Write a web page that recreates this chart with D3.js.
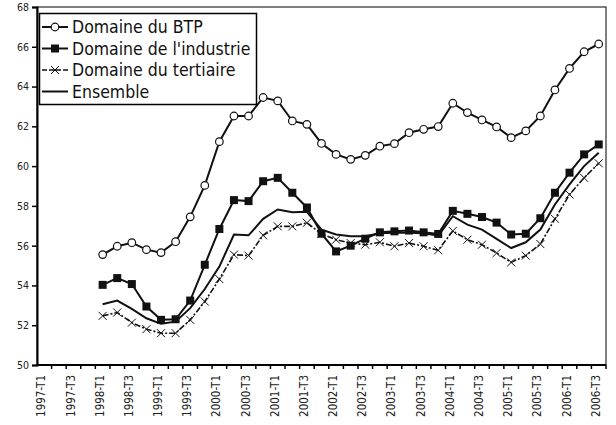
<!DOCTYPE html>
<html>
<head>
<meta charset="utf-8">
<script src="https://cdn.jsdelivr.net/npm/d3@7"></script>
<style>
    body { margin: 0; background: #fff; }
    svg { display: block; }
</style>
</head>
<body>
<div id="chart"></div>
<script>
const trimestres = [
    '1997-T1', '1997-T2', '1997-T3', '1997-T4',
    '1998-T1', '1998-T2', '1998-T3', '1998-T4',
    '1999-T1', '1999-T2', '1999-T3', '1999-T4',
    '2000-T1', '2000-T2', '2000-T3', '2000-T4',
    '2001-T1', '2001-T2', '2001-T3', '2001-T4',
    '2002-T1', '2002-T2', '2002-T3', '2002-T4',
    '2003-T1', '2003-T2', '2003-T3', '2003-T4',
    '2004-T1', '2004-T2', '2004-T3', '2004-T4',
    '2005-T1', '2005-T2', '2005-T3', '2005-T4',
    '2006-T1', '2006-T2', '2006-T3'
];

// les séries commencent en 1998-T1
const debut = '1998-T1';

const btp = [
    55.55, 55.97, 56.15, 55.80,
    55.65, 56.20, 57.45, 59.03,
    61.23, 62.52, 62.52, 63.45,
    63.28, 62.27, 62.10, 61.14,
    60.59, 60.34, 60.54, 61.00,
    61.13, 61.68, 61.85, 61.99,
    63.16, 62.69, 62.32, 61.97,
    61.43, 61.77, 62.52, 63.83,
    64.91, 65.75, 66.14
];

const industrie = [
    54.03, 54.37, 54.07, 52.94,
    52.27, 52.30, 53.24, 55.04,
    56.84, 58.29, 58.24, 59.24,
    59.41, 58.66, 57.92, 56.60,
    55.71, 56.00, 56.35, 56.67,
    56.72, 56.76, 56.67, 56.59,
    57.75, 57.60, 57.44, 57.16,
    56.56, 56.60, 57.38, 58.66,
    59.67, 60.59, 61.09
];

const tertiaire = [
    52.47, 52.64, 52.13, 51.80,
    51.60, 51.60, 52.27, 53.19,
    54.32, 55.55, 55.50, 56.52,
    56.97, 56.97, 57.15, 56.59,
    56.30, 56.13, 56.05, 56.17,
    55.97, 56.13, 55.97, 55.77,
    56.74, 56.30, 56.05, 55.63,
    55.16, 55.50, 56.08, 57.35,
    58.57, 59.41, 60.14
];

const ensemble = [
    53.05, 53.24, 52.82, 52.35,
    52.07, 52.18, 52.86, 53.82,
    54.95, 56.56, 56.52, 57.35,
    57.82, 57.68, 57.70, 56.80,
    56.56, 56.47, 56.47, 56.62,
    56.65, 56.65, 56.62, 56.50,
    57.48, 57.06, 56.81, 56.34,
    55.88, 56.17, 56.81, 58.07,
    59.08, 60.00, 60.67
];

const yTicks = [50, 52, 54, 56, 58, 60, 62, 64, 66, 68];
const xTickLabels = trimestres.filter((d, i) => i % 2 == 0);

const series = [
    {nom: 'Domaine du BTP', valeurs: btp, marque: 'rond', dash: null},
    {nom: "Domaine de l'industrie", valeurs: industrie, marque: 'carre', dash: null},
    {nom: 'Domaine du tertiaire', valeurs: tertiaire, marque: 'croix', dash: '6,2,2,2'},
    {nom: 'Ensemble', valeurs: ensemble, marque: null, dash: null}
];

const police = 'DejaVu Sans Condensed, DejaVu Sans, sans-serif';

const graphique = (seletor) => {
    let W = 616, H = 425;
    let margin = {top: 7, right: 10, bottom: 60, left: 37};

    let svg = d3.select(seletor)
                .append('svg')
                    .attr('width', W)
                    .attr('height', H);

    let xScale = d3.scaleBand()
                   .domain(trimestres)
                   .range([margin.left, W - margin.right]);

    let yScale = d3.scaleLinear()
                   .domain([50, 68])
                   .range([H - margin.bottom, margin.top]);

    let i0 = trimestres.indexOf(debut);
    let cx = (i) => xScale(trimestres[i0 + i]) + xScale.bandwidth() / 2;

    // cadre
    svg.append('rect')
        .attr('x', margin.left)
        .attr('y', margin.top)
        .attr('width', W - margin.left - margin.right)
        .attr('height', H - margin.top - margin.bottom)
        .attr('fill', 'none')
        .attr('stroke', '#000')
        .attr('stroke-width', 1);

    // Eixo Y
    let yAxis = d3.axisLeft(yScale)
                  .tickValues(yTicks)
                  .tickSize(5)
                  .tickFormat(d3.format('d'));

    let gy = svg.append('g')
        .attr('transform', `translate(${margin.left},0)`)
        .call(yAxis);
    gy.select('.domain').attr('stroke-width', 2);
    gy.selectAll('.tick line').attr('stroke-width', 1.5);
    gy.selectAll('text')
        .attr('font-family', police)
        .attr('font-size', '10.5px')
        .attr('fill', '#222')
        .attr('x', -8);

    // Eixo X : graduations entre les trimestres
    let gx = svg.append('g')
        .attr('transform', `translate(0,${H - margin.bottom})`);

    gx.append('line')
        .attr('x1', margin.left)
        .attr('x2', W - margin.right)
        .attr('stroke', '#000')
        .attr('stroke-width', 2);

    gx.selectAll('.tk')
        .data(trimestres)
        .enter()
        .append('line')
            .attr('x1', d => xScale(d) + xScale.bandwidth())
            .attr('x2', d => xScale(d) + xScale.bandwidth())
            .attr('y1', 0)
            .attr('y2', 4)
            .attr('stroke', '#000')
            .attr('stroke-width', 1.5);

    gx.selectAll('.lbl')
        .data(xTickLabels)
        .enter()
        .append('text')
            .attr('transform', d => `translate(${xScale(d) + xScale.bandwidth() / 2 - 3},10) rotate(-90)`)
            .attr('dy', '0.35em')
            .style('text-anchor', 'end')
            .attr('font-family', police)
            .attr('font-size', '11.5px')
            .attr('fill', '#222')
            .text(d => d);

    // courbes
    series.forEach(s => {
        let line = d3.line()
                     .x((d, i) => cx(i))
                     .y(d => yScale(d));

        svg.append('path')
            .datum(s.valeurs)
            .attr('d', line)
            .attr('fill', 'none')
            .attr('stroke', '#111')
            .attr('stroke-width', s.dash ? 1.6 : 2)
            .attr('stroke-dasharray', s.dash);

        drawMarks(svg, s.valeurs.map((v, i) => [cx(i), yScale(v)]), s.marque);
    });

    // légende
    let lg = svg.append('g');
    lg.append('rect')
        .attr('x', 39.5)
        .attr('y', 13.5)
        .attr('width', 217)
        .attr('height', 91)
        .attr('fill', '#fff')
        .attr('stroke', '#000')
        .attr('stroke-width', 1.5);

    series.forEach((s, k) => {
        let y = 27 + k * 21.5;
        lg.append('line')
            .attr('x1', 42)
            .attr('x2', 68)
            .attr('y1', y)
            .attr('y2', y)
            .attr('stroke', '#111')
            .attr('stroke-width', s.dash ? 1.6 : 2)
            .attr('stroke-dasharray', s.dash ? '5,2' : null);
        drawMarks(lg, [[55, y]], s.marque);
        lg.append('text')
            .attr('x', 72)
            .attr('y', y)
            .attr('dy', '0.36em')
            .attr('font-family', police)
            .attr('font-size', '17.5px')
            .attr('fill', '#111')
            .text(s.nom);
    });
};

const drawMarks = (g, pts, marque) => {
    if (marque == 'rond') {
        g.selectAll(null)
            .data(pts)
            .enter()
            .append('circle')
                .attr('cx', d => d[0])
                .attr('cy', d => d[1])
                .attr('r', 3.8)
                .attr('fill', '#fff')
                .attr('stroke', '#111')
                .attr('stroke-width', 1.2);
    } else if (marque == 'carre') {
        g.selectAll(null)
            .data(pts)
            .enter()
            .append('rect')
                .attr('x', d => d[0] - 4)
                .attr('y', d => d[1] - 4)
                .attr('width', 8)
                .attr('height', 8)
                .attr('fill', '#111');
    } else if (marque == 'croix') {
        g.selectAll(null)
            .data(pts)
            .enter()
            .append('path')
                .attr('d', d => `M${d[0]-4},${d[1]-4}L${d[0]+4},${d[1]+4}M${d[0]-4},${d[1]+4}L${d[0]+4},${d[1]-4}`)
                .attr('stroke', '#111')
                .attr('stroke-width', 1)
                .attr('fill', 'none');
    }
};

graphique('#chart');
</script>
</body>
</html>
